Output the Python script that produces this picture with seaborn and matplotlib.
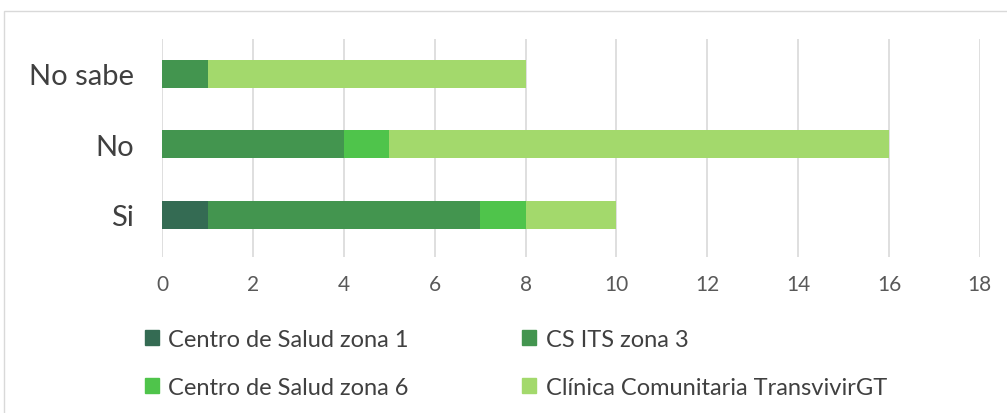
import matplotlib
matplotlib.use("Agg")
import matplotlib.pyplot as plt
import seaborn as sns
import pandas as pd
from matplotlib.patches import Rectangle, Patch

categories = ["Si", "No", "No sabe"]
series = ["Centro de Salud zona 1", "CS ITS zona 3", "Centro de Salud zona 6", "Clínica Comunitaria TransvivirGT"]
zona1 = [1, 0, 0]
its3 = [6, 4, 1]
zona6 = [1, 1, 0]
clinica = [2, 11, 7]
colors = ["#346B53", "#43954F", "#4FC44B", "#A3D96C"]
xticks = [0, 2, 4, 6, 8, 10, 12, 14, 16, 18]

sns.set_style("white")
plt.rcParams["font.family"] = ["Lato", "DejaVu Sans"]

df = pd.DataFrame({"cat": categories, series[0]: zona1, series[1]: its3,
                   series[2]: zona6, series[3]: clinica})

fig = plt.figure(figsize=(10.07, 4.14), dpi=100)
ax = fig.add_axes([0.161, 0.377, 0.812, 0.527])

left = [0] * len(categories)
for name, col in zip(series, colors):
    vals = df[name].tolist()
    ax.barh(df["cat"], vals, left=left, color=col, height=0.4, linewidth=0, zorder=3)
    left = [l + v for l, v in zip(left, vals)]

ax.set_xlim(0, 18)
ax.set_ylim(-0.6, 2.5)
ax.set_xticks(xticks)
ax.grid(axis="x", color="#D9D9D9", linewidth=1.2, zorder=0)
ax.grid(axis="y", visible=False)
sns.despine(ax=ax, left=True, bottom=True, top=True, right=True)
ax.tick_params(axis="x", labelsize=15, colors="#595959", length=0, pad=12)
ax.tick_params(axis="y", labelsize=21, colors="#404040", length=0, pad=20)

# legend fills row by row in the reference
order = [0, 2, 1, 3]
handles = [Patch(color=colors[i], label=series[i]) for i in order]
fig.legend(handles=handles, ncol=2, loc="upper left", bbox_to_anchor=(0.139, 0.215),
           frameon=False, fontsize=17, handlelength=0.6, handleheight=0.6,
           handletextpad=0.4, columnspacing=4.8, labelspacing=1.15, labelcolor="#404040",
           borderaxespad=0, borderpad=0.2)

fig.patches.append(Rectangle((0.004, -0.1), 1.1, 1.071, transform=fig.transFigure,
                             fill=False, edgecolor="#D9D9D9", linewidth=1))

fig.savefig("out.png", dpi=100)
